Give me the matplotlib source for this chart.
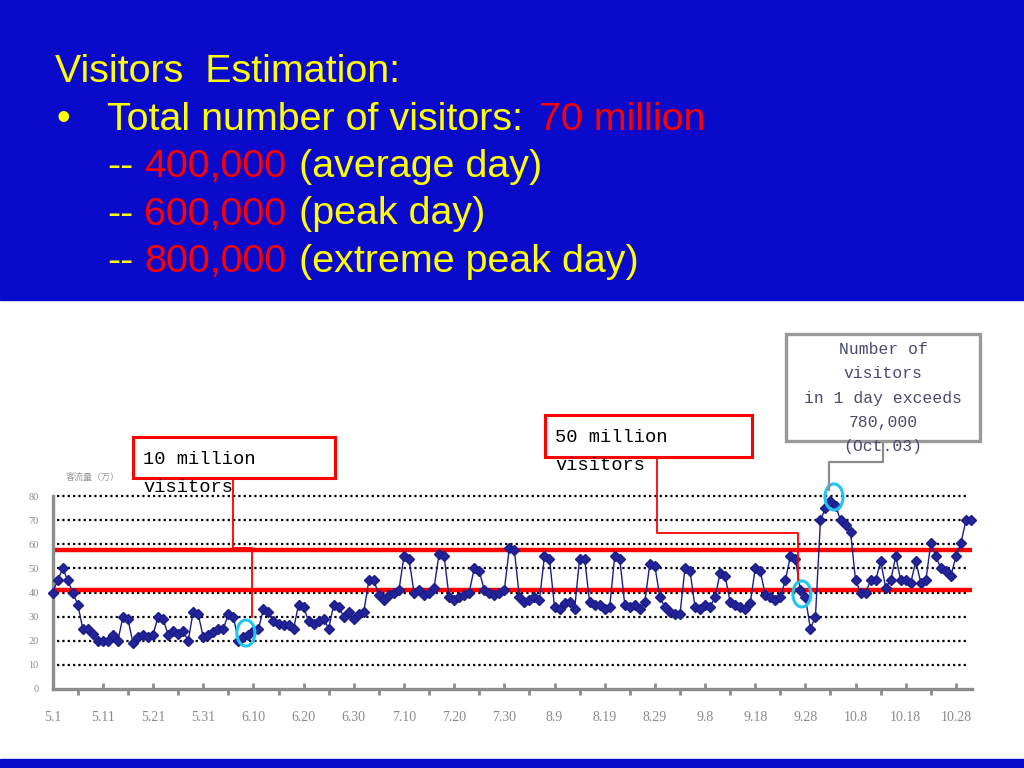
import matplotlib
matplotlib.use('Agg')
import matplotlib.pyplot as plt
from matplotlib.patches import Rectangle, Ellipse
import numpy as np

# daily visitors (10k), 5.1 .. 10.31
may = [40, 45, 50, 45, 40, 35, 25, 25, 23, 20, 20, 20, 22.5, 20, 30, 29, 19, 21.5, 22.5, 21.5,
       22.5, 30, 29, 22.5, 24, 23, 24, 20, 32, 31, 21.5]
june = [22.5, 23.5, 25, 25, 31, 30, 20, 21.5, 22.5, 24, 25, 33, 32, 28, 27, 26.5, 26.5, 25, 35, 34,
        28, 27, 28, 29, 25, 35, 34, 30, 32, 29]
july = [31, 32, 45, 45, 39, 37, 39, 40, 41, 55, 54, 40, 41, 39, 40, 42, 56, 55, 38, 37,
        38, 39, 40, 50, 49, 41, 40, 39, 40, 41, 58.5]
august = [57.5, 38, 36, 37, 38, 37, 55, 54, 34, 33, 35.5, 36, 33, 54, 54, 36, 35, 35, 33, 34,
          55, 54, 35, 34, 35, 33, 36, 52, 51, 38, 34]
september = [32, 31, 31, 50, 49, 34, 33, 35, 34, 38, 48, 47, 36, 35, 34, 33, 35.5, 50, 49, 39,
             38, 37, 38, 45, 55, 54, 41, 38, 25, 30]
october = [70, 75, 78, 76, 70, 68, 65, 45, 40, 40, 45, 45, 53, 42, 45, 55, 45, 45, 44, 53,
           44, 45, 60.5, 55, 50, 49, 47, 55, 60.5, 70, 70]
visitors = may + june + july + august + september + october

tick_labels = ['5.1', '5.11', '5.21', '5.31', '6.10', '6.20', '6.30', '7.10', '7.20', '7.30',
               '8.9', '8.19', '8.29', '9.8', '9.18', '9.28', '10.8', '10.18', '10.28']
y_ticks = [0, 10, 20, 30, 40, 50, 60, 70, 80]
red_levels = [41, 57.8]
# highlighted days (index from 5.1, value)
highlights = [(38.5, 23.2), (149.3, 39.4), (155.7, 79.6)]

BLUE = '#0a0acb'
YELLOW = '#ffff00'
RED = '#ff0000'

W, H = 1024, 768
fig = plt.figure(figsize=(W / 100, H / 100), dpi=100)

# ---- chart ----
left, right, top, bottom = 52.7, 972, 496, 689
ax = fig.add_axes([left / W, 1 - bottom / H, (right - left) / W, (bottom - top) / H])
ax.patch.set_alpha(0)
x = np.arange(len(visitors))
for yv in y_ticks[1:]:
    ax.plot([0.9, 182.7], [yv, yv], color='black', lw=1.6, ls=(0, (1, 1.4)), zorder=1,
            clip_on=False)
for lv in red_levels:
    ax.axhline(lv, color=RED, lw=3.2, zorder=2)
ax.plot(x, visitors, color='#1c1c88', lw=1.0, marker='D', ms=4.8,
        mfc='#24249a', mec='#1c1c88', zorder=3, clip_on=False)
for cx, cy in highlights:
    ax.add_patch(Ellipse((cx, cy), 3.6, 10.8, fill=False, ec='#1ec6f0', lw=2.2,
                         zorder=4, clip_on=False))

ax.set_xlim(0, 183.2)
ax.set_ylim(0, 80)
ax.set_xticks(np.arange(0, len(visitors), 10))
ax.set_xticklabels(tick_labels)
ax.set_xticks(np.arange(5, len(visitors), 10), minor=True)
ax.set_yticks(y_ticks)
for s in ['top', 'right']:
    ax.spines[s].set_visible(False)
for s in ['left', 'bottom']:
    ax.spines[s].set_color('#8c8c8c')
    ax.spines[s].set_linewidth(2.4)
ax.tick_params(axis='x', which='major', direction='in', length=4, width=2, color='#8c8c8c',
               pad=16, labelsize=10, labelcolor='#8a8a8a')
ax.tick_params(axis='x', which='minor', direction='out', length=4, width=2, color='#8c8c8c')
ax.tick_params(axis='y', length=0, pad=10, labelsize=7.5, labelcolor='#8a8a8a')
for lab in ax.get_xticklabels() + ax.get_yticklabels():
    lab.set_family('Liberation Serif')

# ---- overlay (slide elements, pixel coordinates) ----
ov = fig.add_axes([0, 0, 1, 1], zorder=5)
ov.set_xlim(0, W)
ov.set_ylim(H, 0)
ov.axis('off')
ov.patch.set_alpha(0)

ov.add_patch(Rectangle((0, 0), W, 300, color=BLUE, zorder=0))
ov.add_patch(Rectangle((0, 759), W, 9, color=BLUE, zorder=0))

fs = 28.4
fam = 'Liberation Sans'
ov.text(55, 82, 'Visitors  Estimation:', color=YELLOW, fontsize=fs, family=fam, va='baseline')
ov.text(56, 129.5, '\u2022', color=YELLOW, fontsize=fs, family=fam, va='baseline')
ov.text(107, 129.5, 'Total number of visitors:', color=YELLOW, fontsize=fs, family=fam, va='baseline')
ov.text(539, 129.5, '70 million', color=RED, fontsize=fs, family=fam, va='baseline')
sub_lines = [('400,000', '(average day)'), ('600,000', '(peak day)'), ('800,000', '(extreme peak day)')]
for i, (num, desc) in enumerate(sub_lines):
    yb = 177 + 47.5 * i
    ov.text(107, yb, '--', color=YELLOW, fontsize=fs, family=fam, va='baseline')
    ov.text(144, yb, num, color=RED, fontsize=fs, family=fam, va='baseline')
    ov.text(299, yb, desc, color=YELLOW, fontsize=fs, family=fam, va='baseline')

mono = 'Liberation Mono'
# 10 million box
ov.add_patch(Rectangle((133, 437), 202, 41, fc='white', ec=RED, lw=2.2, zorder=2))
ov.plot([233, 233, 252, 252], [478, 548, 548, 617], color=RED, lw=1.3, zorder=1)
ov.text(143, 459, '10 million', fontsize=13.5, family=mono, va='center', color='black', zorder=3)
ov.text(143, 487, 'visitors', fontsize=13.5, family=mono, va='center', color='black', zorder=3)

# 50 million box
ov.add_patch(Rectangle((545, 415), 207, 42, fc='white', ec=RED, lw=2.2, zorder=2))
ov.plot([657, 657, 798, 798], [457, 533, 533, 580], color=RED, lw=1.3, zorder=1)
ov.text(555, 438, '50 million', fontsize=13.5, family=mono, va='center', color='black', zorder=3)
ov.text(555, 465, 'visitors', fontsize=13.5, family=mono, va='center', color='black', zorder=3)

# peak box
ov.add_patch(Rectangle((786, 334), 194, 107, fc='white', ec='#999999', lw=2.4, zorder=2))
ov.plot([883, 883, 829, 829], [441, 462, 462, 490], color='#8c8c8c', lw=1.6, zorder=1)
peak_lines = ['Number of', 'visitors', 'in 1 day exceeds', '780,000', '(Oct.03)']
for i, t in enumerate(peak_lines):
    ov.text(883, 350 + 24 * i, t, fontsize=11.8, family=mono, ha='center', va='center',
            color='#4a4a72', zorder=3)

ov.text(93, 477, '客流量（万）', fontsize=6.5, family=['Noto Sans CJK SC', 'DejaVu Sans'],
        ha='center', va='center', color='#9a9a9a')

fig.savefig('out.png', dpi=100)
